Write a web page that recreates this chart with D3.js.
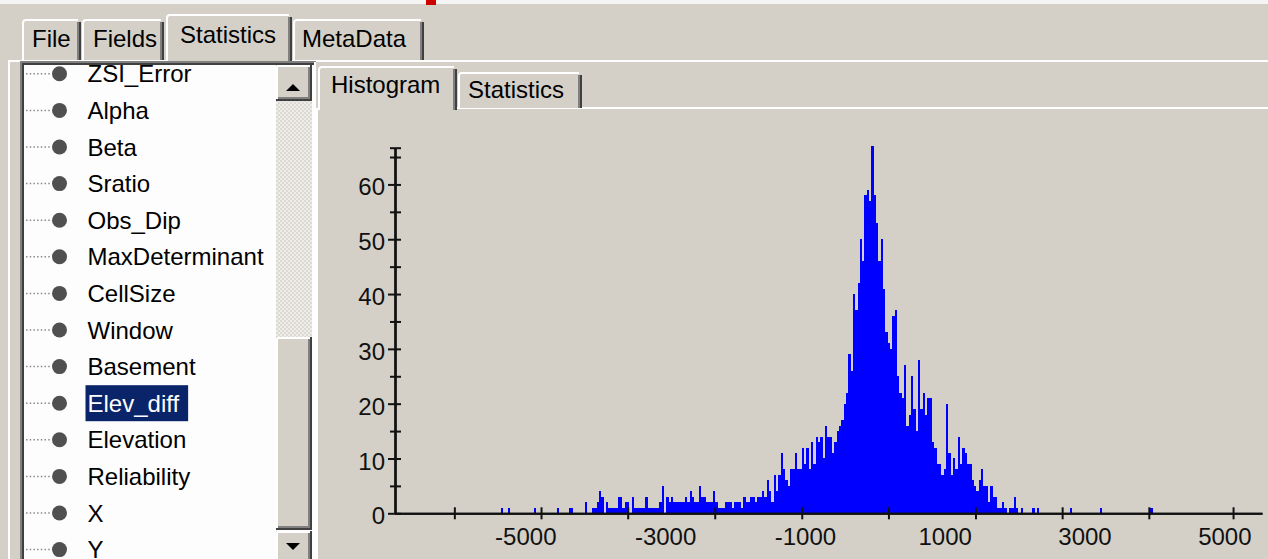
<!DOCTYPE html>
<html>
<head>
<meta charset="utf-8">
<script src="https://cdn.jsdelivr.net/npm/d3@7/dist/d3.min.js"></script>
<style>
html,body{margin:0;padding:0;background:#d4d0c8;overflow:hidden;}
svg{display:block;}
text{font-family:"Liberation Sans",Arial,sans-serif;}
</style>
</head>
<body>
<svg id="chart" width="1268" height="559"></svg>
<script>
// ---------------- data ----------------
const mainTabs = ["File", "Fields", "Statistics", "MetaData"];
const activeMainTab = "Statistics";
const fieldNames = ["ZSI_Error", "Alpha", "Beta", "Sratio", "Obs_Dip", "MaxDeterminant", "CellSize",
  "Window", "Basement", "Elev_diff", "Elevation", "Reliability", "X", "Y"];
const selectedField = "Elev_diff";
const panelTabs = ["Histogram", "Statistics"];
const activePanelTab = "Histogram";

// histogram of Elev_diff: bins start at binStart, each binWidth wide
const binStart = -5347;
const binWidth = 33.33;
const binCounts = [
  1,0,0,1,0,0,0,0,0,0,
  0,0,0,0,1,0,0,0,0,0,
  0,0,0,0,1,0,0,0,0,1,
  1,0,0,0,0,0,2,0,0,1,
  1,2,4,3,0,2,1,1,1,1,
  3,3,1,2,2,0,3,1,1,1,
  1,1,3,1,1,1,1,1,2,5,
  0,3,2,3,2,2,2,2,2,3,
  2,4,3,2,2,5,3,3,2,2,
  2,4,2,1,1,1,2,2,2,1,
  2,2,2,1,3,2,2,3,3,2,
  3,3,4,3,6,4,2,7,4,7,
  11,8,6,5,8,8,11,8,8,12,
  9,12,8,13,9,14,13,14,10,16,
  14,14,11,13,15,16,17,20,22,29,
  26,40,37,42,50,46,58,59,57,67,
  58,53,46,50,41,33,31,30,36,37,
  25,22,21,27,16,18,25,19,15,28,
  19,22,18,21,21,13,12,9,9,7,
  8,20,11,7,10,8,14,9,12,11,
  9,9,6,5,4,6,8,5,5,2,
  5,3,3,1,1,2,1,0,1,1,
  3,1,0,1,0,0,0,0,1,0,
  1,0,0,0,0,0,0,0,0,0,
  0,0,0,0,1,0,0,0,0,0,
  0,0,0,0,0,0,0,1,0,0,
  0,0,0,0,0,0,0,0,0,0,
  0,0,0,0,0,0,0,0,1,1
];
const xLabelValues = [-5000, -3000, -1000, 1000, 3000, 5000];
const xTickValues = [-6015, -4775, -3535, -2290, -1045, 195, 1440, 2680, 3920, 5125];
const yLabelValues = [0, 10, 20, 30, 40, 50, 60];
const yMinorValues = [5, 15, 25, 35, 45, 55, 65];
const yAxisMax = 66.7;
const xAxisMin = -6864, xAxisMax = 5539;

// ---------------- layout / style ----------------
const W = 1268, H = 559;
const C = {face: "#d4d0c8", light: "#ffffff", shadow: "#808080", dark: "#404040", ink: "#000000",
  listBg: "#fdfdfd", select: "#0a246a", bar: "#0000ff", bullet: "#505050"};
const FS = 24;
const svg = d3.select("#chart");

svg.append("rect").attr("width", W).attr("height", H).attr("fill", C.face);
// top strip of the screenshot
svg.append("rect").attr("x", 0).attr("y", 0).attr("width", W).attr("height", 4).attr("fill", "#f4f4f4");
svg.append("rect").attr("x", 426).attr("y", 0).attr("width", 10).attr("height", 5).attr("fill", "#cc0000");

function line(g, x1, y1, x2, y2, color, w) {
  g.append("line").attr("x1", x1).attr("y1", y1).attr("x2", x2).attr("y2", y2)
    .attr("stroke", color).attr("stroke-width", w || 2);
}
function raised(g, x, y, w, h) {
  g.append("rect").attr("x", x).attr("y", y).attr("width", w).attr("height", h).attr("fill", C.face);
  line(g, x + 1, y + 1, x + w - 1, y + 1, C.light);
  line(g, x + 1, y + 1, x + 1, y + h - 1, C.light);
  line(g, x + w - 1, y, x + w - 1, y + h, C.dark);
  line(g, x, y + h - 1, x + w, y + h - 1, C.dark);
  line(g, x + w - 3, y + 2, x + w - 3, y + h - 2, C.shadow);
  line(g, x + 2, y + h - 3, x + w - 2, y + h - 3, C.shadow);
}
function tab(g, x0, x1, top, bottom, label, tx, ty) {
  g.append("rect").attr("x", x0).attr("y", top).attr("width", x1 - x0).attr("height", bottom - top).attr("fill", C.face);
  g.append("path").attr("d", `M${x0 + 1},${bottom} L${x0 + 1},${top + 4} Q${x0 + 1},${top + 1} ${x0 + 4},${top + 1} L${x1 - 3},${top + 1}`)
    .attr("fill", "none").attr("stroke", C.light).attr("stroke-width", 2);
  line(g, x1 - 1, top + 3, x1 - 1, bottom, C.dark);
  line(g, x1 - 3, top + 3, x1 - 3, bottom, C.shadow);
  g.append("text").attr("x", tx).attr("y", ty).attr("font-size", FS).attr("fill", C.ink).text(label);
}

// ---- main tab strip ----
const mainTabLayout = [
  {x0: 22, x1: 81, tx: 32},
  {x0: 82, x1: 164, tx: 93},
  {x0: 166, x1: 292, tx: 180},
  {x0: 293, x1: 424, tx: 302}
];
const gTabs = svg.append("g");
line(gTabs, 8, 61, W, 61, C.light);
line(gTabs, 9, 61, 9, H, C.light);
mainTabs.forEach((name, i) => {
  const L = mainTabLayout[i];
  const act = name === activeMainTab;
  tab(gTabs, L.x0, L.x1, act ? 14 : 19, act ? 62 : 60, name, L.tx, act ? 43 : 47);
});

// ---- field list ----
const gList = svg.append("g");
gList.append("rect").attr("x", 20).attr("y", 62).attr("width", 296).attr("height", 520).attr("fill", C.listBg);
line(gList, 20, 62, 316, 62, C.shadow);
line(gList, 21, 62, 21, H, C.shadow);
line(gList, 22, 64, 316, 64, C.dark);
line(gList, 23, 64, 23, H, C.dark);
line(gList, 315, 62, 315, H, C.light);

const defs = svg.append("defs");
defs.append("clipPath").attr("id", "listclip")
  .append("rect").attr("x", 24).attr("y", 65).attr("width", 252).attr("height", 500);
const gItems = gList.append("g").attr("clip-path", "url(#listclip)");
const rowY = d3.scaleLinear().domain([0, 1]).range([73.8, 110.4]);
fieldNames.forEach((name, k) => {
  const cy = rowY(k);
  gItems.append("line").attr("x1", 26).attr("y1", cy).attr("x2", 50).attr("y2", cy)
    .attr("stroke", "#8a8a8a").attr("stroke-width", 1.5).attr("stroke-dasharray", "1.5,2.2");
  gItems.append("circle").attr("cx", 59.5).attr("cy", cy).attr("r", 7.5).attr("fill", C.bullet);
  const sel = name === selectedField;
  const t = gItems.append("text").attr("x", 87.5).attr("y", cy + 8.6).attr("font-size", FS)
    .attr("fill", sel ? "#ffffff" : C.ink).text(name);
  if (sel) {
    const bw = t.node().getComputedTextLength();
    gItems.append("rect").attr("x", 85.5).attr("y", cy - 18).attr("width", bw + 11)
      .attr("height", 36).attr("fill", C.select);
    t.raise();
  }
});

// ---- scrollbar ----
const gSb = svg.append("g");
const pat = defs.append("pattern").attr("id", "dither").attr("width", 4).attr("height", 4).attr("patternUnits", "userSpaceOnUse");
pat.append("rect").attr("width", 4).attr("height", 4).attr("fill", "#eeede9");
pat.append("rect").attr("width", 2).attr("height", 2).attr("fill", "#dcd9d3");
pat.append("rect").attr("x", 2).attr("y", 2).attr("width", 2).attr("height", 2).attr("fill", "#dcd9d3");
gSb.append("rect").attr("x", 276).attr("y", 101).attr("width", 36).attr("height", 236).attr("fill", "url(#dither)");
raised(gSb, 276, 65, 36, 36);
gSb.append("path").attr("d", "M286,91 L300,91 L293,84 Z").attr("fill", "#000");
raised(gSb, 276, 337, 36, 193);
raised(gSb, 276, 531, 36, 36);
gSb.append("path").attr("d", "M286,543 L300,543 L293,550 Z").attr("fill", "#000");

// ---- right panel tabs ----
const gPanel = svg.append("g");
line(gPanel, 317, 108, 317, H, C.light);
line(gPanel, 456, 108, W, 108, C.light);
const panelTabLayout = [{x0: 318, x1: 457, tx: 331}, {x0: 458, x1: 582, tx: 468}];
panelTabs.forEach((name, i) => {
  const L = panelTabLayout[i];
  const act = name === activePanelTab;
  tab(gPanel, L.x0, L.x1, act ? 66 : 72, act ? 110 : 108, name, L.tx, act ? 93 : 98);
});

// ---------------- histogram ----------------
const x = d3.scaleLinear().domain([xAxisMin, xAxisMax]).range([395, 1262]);
const y = d3.scaleLinear().domain([0, yAxisMax]).range([513.3, 147.7]);

const bins = binCounts.map((c, i) => ({c, x0: binStart + i * binWidth, x1: binStart + (i + 1) * binWidth}))
  .filter(d => d.c > 0);
// integer bar edges shared by neighbours so the histogram is seamless
svg.append("g").attr("shape-rendering", "crispEdges")
  .selectAll("rect").data(bins).join("rect")
  .attr("x", d => Math.round(x(d.x0)))
  .attr("width", d => Math.round(x(d.x1)) - Math.round(x(d.x0)))
  .attr("y", d => Math.round(y(d.c)))
  .attr("height", d => Math.round(y(0)) - Math.round(y(d.c)) + 1)
  .attr("fill", C.bar);

function styleAxis(g) {
  g.selectAll("path.domain").attr("stroke", "#111").attr("stroke-width", 2);
  g.selectAll(".tick line").attr("stroke", "#111").attr("stroke-width", 2);
}
// x axis: tick marks crossing the line
const gx = svg.append("g").attr("transform", `translate(0,${y(0)})`);
gx.append("g").call(d3.axisBottom(x).tickValues(xTickValues).tickSize(6).tickSizeOuter(0).tickFormat("")).call(styleAxis);
gx.append("g").call(d3.axisTop(x).tickValues(xTickValues).tickSize(6).tickSizeOuter(0).tickFormat("")).call(styleAxis);
const gxl = gx.append("g").call(d3.axisBottom(x).tickValues(xLabelValues).tickSize(0).tickFormat(d => String(d)));
gxl.select("path.domain").remove();
gxl.selectAll("text").attr("y", 31.3).attr("dy", 0).attr("font-size", FS).attr("fill", "#111")
  .attr("font-family", '"Liberation Sans",Arial,sans-serif');

// y axis
const gy = svg.append("g").attr("transform", "translate(395,0)");
gy.append("g").call(d3.axisRight(y).tickValues([...yLabelValues, ...yMinorValues, yAxisMax]).tickSize(6).tickSizeOuter(0).tickFormat("")).call(styleAxis);
gy.append("g").call(d3.axisLeft(y).tickValues([...yMinorValues, yAxisMax]).tickSize(5).tickSizeOuter(0).tickFormat("")).call(styleAxis);
const gyl = gy.append("g").call(d3.axisLeft(y).tickValues(yLabelValues).tickSize(7).tickPadding(3).tickSizeOuter(0).tickFormat(d => String(d))).call(styleAxis);
gyl.selectAll("text").attr("dy", "0.44em").attr("font-size", FS).attr("fill", "#111")
  .attr("font-family", '"Liberation Sans",Arial,sans-serif');
</script>
</body>
</html>
